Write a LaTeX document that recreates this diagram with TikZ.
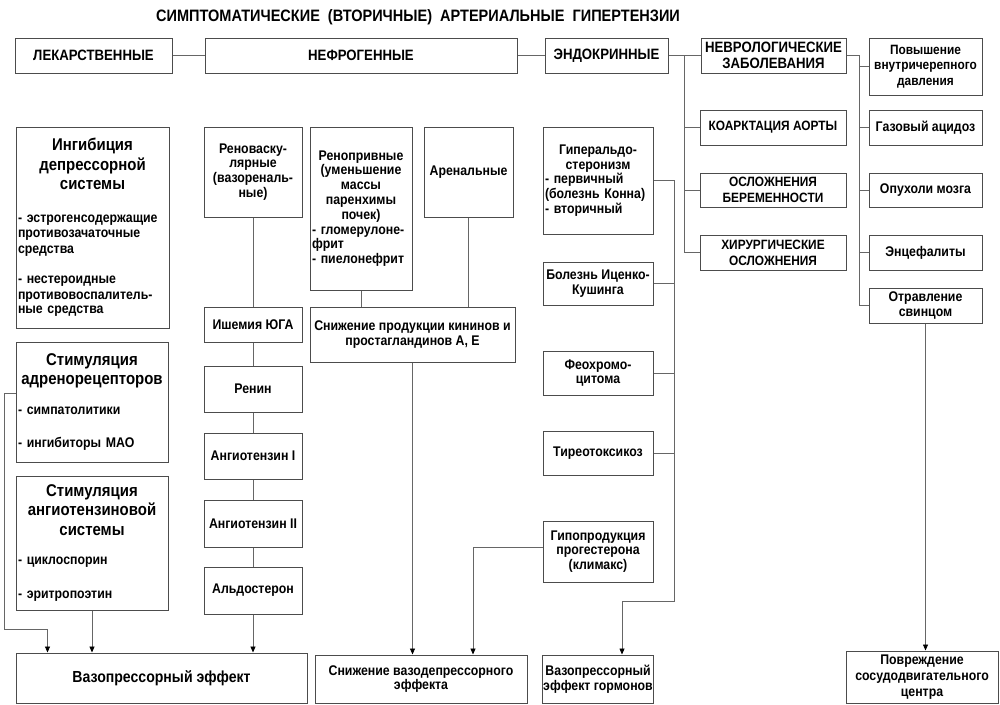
\documentclass[tikz,border=0pt]{standalone}
\usepackage{fontspec}
\setmainfont{Liberation Sans}[FakeStretch=0.88]
\usetikzlibrary{arrows.meta}
\tikzset{
  bx/.style = {draw=black!70, line width=1pt, fill=white, inner sep=1pt,
    align=center, font=\bfseries\fontsize{14}{14.8}\selectfont},
  hd/.style = {bx, inner sep=0pt, font=\bfseries\fontsize{15}{16.5}\selectfont},
  up/.style = {bx, font=\bfseries\fontsize{13.5}{16}\selectfont},
  tit/.style = {font=\bfseries\fontsize{16.5}{18}\selectfont},
  ln/.style = {draw=black!60, line width=0.8pt},
  ar/.style = {ln, -{Triangle[length=6pt, width=5pt, black]}}
}
\newcommand{\cab}[1]{{\centering\fontsize{17}{19.5}\selectfont #1\par}}
\newcommand{\ctr}[1]{{\centering #1\par}}
\newcommand{\lst}{\fontsize{14}{15.5}\selectfont}

\begin{document}
\begin{tikzpicture}[x=1pt, y=-1pt]
  \fill [white] (0,0) rectangle (1000,704);
  \useasboundingbox (0,0) rectangle (1000,704);
  \node [tit] (title) at (418,17) {СИМПТОМАТИЧЕСКИЕ~~(ВТОРИЧНЫЕ)~~АРТЕРИАЛЬНЫЕ~~ГИПЕРТЕНЗИИ};
  % groups
  \node [hd, minimum width=157pt, minimum height=35pt] (lek) at (93.5,55.5) {ЛЕКАРСТВЕННЫЕ};
  \node [hd, minimum width=312pt, minimum height=35pt] (nef) at (361,55.5) {НЕФРОГЕННЫЕ};
  \node [hd, minimum width=123pt, minimum height=35pt] (endo) at (606.5,55.5) {ЭНДОКРИННЫЕ};
  \node [hd, minimum width=145pt, minimum height=35pt] (nevr) at (773.5,55.5) {НЕВРОЛОГИЧЕСКИЕ\\ЗАБОЛЕВАНИЯ};
  % drugs
  \node [bx, minimum width=153pt, minimum height=201pt, text width=149pt, align=left] (ingib) at (92.5,227.5)
    {\cab{Ингибиция\\депрессорной\\системы}\vspace{17pt}\lst - эстрогенсодержащие\\противозачаточные\\средства\par
     \vspace{15pt}- нестероидные\\противовоспалитель-\\ные средства};
  \node [bx, minimum width=152pt, minimum height=120pt, text width=148pt, align=left] (adren) at (92,402)
    {\cab{Стимуляция\\адренорецепторов}\vspace{14pt}\lst - симпатолитики\par\vspace{19pt}- ингибиторы МАО};
  \node [bx, minimum width=152pt, minimum height=134pt, text width=148pt, align=left] (angsys) at (92,543)
    {\cab{Стимуляция\\ангиотензиновой\\системы}\vspace{14pt}\lst - циклоспорин\par\vspace{19pt}- эритропоэтин};
  \node [bx, minimum width=291pt, minimum height=50pt, font=\bfseries\fontsize{16}{18}\selectfont] (vazef) at (161.5,678) {Вазопрессорный эффект};
  % kidney
  \node [bx, minimum width=98pt, minimum height=90pt] (renovas) at (253,172) {Реноваску-\\лярные\\(вазореналь-\\ные)};
  \node [bx, minimum width=102pt, minimum height=163pt, text width=98pt, align=left] (renopr) at (361,208.5)
    {\ctr{Ренопривные\\(уменьшение\\массы\\паренхимы\\почек)}- гломерулоне-\\фрит\\- пиелонефрит};
  \node [bx, minimum width=89pt, minimum height=90pt] (arenal) at (468.5,172) {Аренальные};
  \node [bx, minimum width=98pt, minimum height=35pt] (ishem) at (253,324.5) {Ишемия ЮГА};
  \node [bx, minimum width=205pt, minimum height=55pt] (snizh) at (412.5,334.5) {Снижение продукции кининов и\\простагландинов А, Е};
  \node [bx, minimum width=98pt, minimum height=46pt] (renin) at (253,389) {Ренин};
  \node [bx, minimum width=98pt, minimum height=46pt] (ang1) at (253,456) {Ангиотензин I};
  \node [bx, minimum width=98pt, minimum height=47pt] (ang2) at (253,523.5) {Ангиотензин II};
  \node [bx, minimum width=98pt, minimum height=47pt] (aldo) at (253,590.5) {Альдостерон};
  \node [bx, minimum width=212pt, minimum height=48pt] (snvd) at (421,679) {Снижение вазодепрессорного\\эффекта};
  % endocrine
  \node [bx, minimum width=110pt, minimum height=107pt, text width=106pt, align=left] (hyperald) at (598,180.5)
    {\ctr{Гиперальдо-\\стеронизм}- первичный\\(болезнь Конна)\\- вторичный};
  \node [bx, inner sep=0pt, minimum width=110pt, minimum height=43pt] (kush) at (598,283.5) {Болезнь Иценко-\\Кушинга};
  \node [bx, minimum width=110pt, minimum height=44pt] (feo) at (598,373) {Феохромо-\\цитома};
  \node [bx, minimum width=110pt, minimum height=44pt] (tireo) at (598,453) {Тиреотоксикоз};
  \node [bx, minimum width=110pt, minimum height=61pt] (gipo) at (598,551.5) {Гипопродукция\\прогестерона\\(климакс)};
  \node [bx, minimum width=108pt, minimum height=48pt] (vazgorm) at (598,679) {Вазопрессорный\\эффект гормонов};
  % neuro and others
  \node [up, minimum width=146pt, minimum height=35pt] (koark) at (773,127.5) {КОАРКТАЦИЯ АОРТЫ};
  \node [up, minimum width=146pt, minimum height=34pt] (oslozh) at (773,190) {ОСЛОЖНЕНИЯ\\БЕРЕМЕННОСТИ};
  \node [up, minimum width=146pt, minimum height=35pt] (hirurg) at (773,252.5) {ХИРУРГИЧЕСКИЕ\\ОСЛОЖНЕНИЯ};
  \node [bx, inner sep=0pt, minimum width=113pt, minimum height=57pt, font=\bfseries\fontsize{13.5}{15.5}\selectfont] (povysh) at (925.5,66.5) {Повышение\\внутричерепного\\давления};
  \node [bx, minimum width=113pt, minimum height=35pt] (gaz) at (925.5,127.5) {Газовый ацидоз};
  \node [bx, minimum width=113pt, minimum height=34pt] (opuh) at (925.5,190) {Опухоли мозга};
  \node [bx, minimum width=113pt, minimum height=35pt] (ence) at (925.5,252.5) {Энцефалиты};
  \node [bx, minimum width=113pt, minimum height=35pt] (svin) at (925.5,305.5) {Отравление\\свинцом};
  \node [bx, minimum width=152pt, minimum height=52pt, font=\bfseries\fontsize{14}{16}\selectfont] (povr) at (922,677) {Повреждение\\сосудодвигательного\\центра};
  % connectors
  \draw [ln] (lek) -- (nef);
  \draw [ln] (nef) -- (endo);
  \draw [ln] (endo) -- (nevr);
  \coordinate (nl) at (684,55.5);
  \draw [ln] (nl) |- (hirurg.west);
  \foreach \n in {koark, oslozh} \draw [ln] (nl |- \n.west) -- (\n.west);
  \coordinate (nr) at (859,55.5);
  \draw [ln] (nevr.east) -- (nr) |- (svin.west);
  \foreach \n in {povysh, gaz, opuh, ence} \draw [ln] (nr |- \n.west) -- (\n.west);
  \draw [ar] (svin.south) -- (svin.south |- povr.north);
  \coordinate (ed) at (674,601);
  \draw [ar] (hyperald.east) -| (ed) -| ([xshift=24pt]vazgorm.north);
  \foreach \n in {kush, feo, tireo} \draw [ln] (\n.east) -- (\n.east -| ed);
  \draw [ar] ([yshift=4pt]gipo.west) -| ([xshift=52pt]snvd.north);
  \draw [ln] (renovas) -- (ishem);
  \foreach \a/\b in {ishem/renin, renin/ang1, ang1/ang2, ang2/aldo} \draw [ln] (\a) -- (\b);
  \draw [ar] (aldo) -- (aldo |- vazef.north);
  \draw [ln] (renopr) -- (renopr |- snizh.north);
  \draw [ln] (arenal) -- (arenal |- snizh.north);
  \draw [ar] (snizh) -- (snizh |- snvd.north);
  \coordinate (lc) at (4,629);
  \draw [ar] ([yshift=9pt]adren.west) -| (lc) -| ([xshift=32pt]vazef.north west);
  \draw [ar] (angsys) -- (angsys |- vazef.north);
\end{tikzpicture}
\end{document}
